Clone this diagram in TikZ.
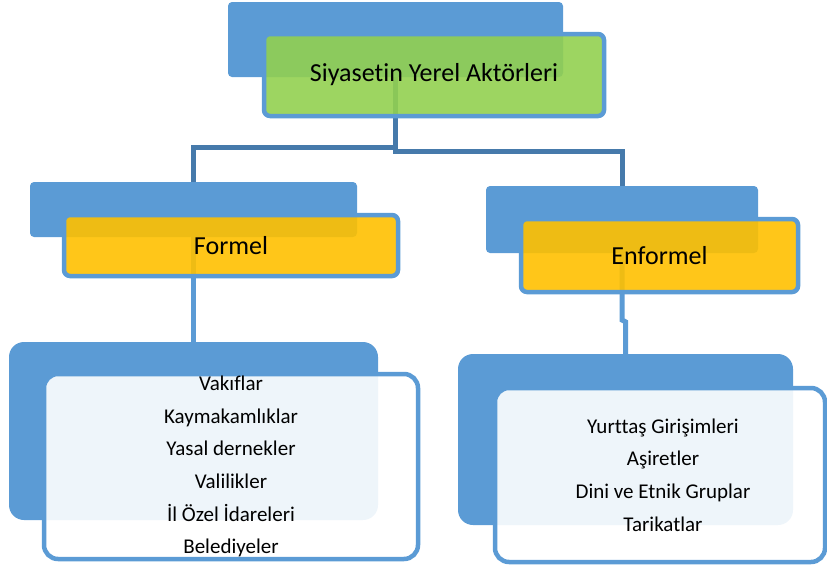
\documentclass[tikz,border=0pt]{standalone}
\usepackage{fontspec}
\setmainfont{Carlito}[Ligatures=CommonOff]
\usepackage{xcolor}
\usepackage{tikz}
\usetikzlibrary{backgrounds}

\definecolor{boxblue}{HTML}{5B9BD5}
\definecolor{linkblue}{HTML}{467AAB}
\definecolor{topgreen}{HTML}{92D050}
\definecolor{midyellow}{HTML}{FFC000}

\begin{document}
\begin{tikzpicture}[x=1pt,y=-1pt,
        back/.style={fill=boxblue,rounded corners=4pt,inner sep=0pt},
        front/.style={draw=boxblue,line width=4.5pt,rounded corners=6pt,fill opacity=0.9,text opacity=1,inner sep=0pt,font=\fontsize{26}{31}\selectfont},
        listback/.style={back,rounded corners=15pt},
        listfront/.style={front,fill=white,rounded corners=14pt,align=center,font=\fontsize{21}{32.6}\selectfont},
        link/.style={draw=boxblue,line width=5pt},
        toplink/.style={link,draw=linkblue}]
    \useasboundingbox (0,0) rectangle (827,571);

    \node[back,minimum width=335pt,minimum height=75pt] (topback) at (395.5,39.5) {};
    \node[front,fill=topgreen,minimum width=340pt,minimum height=82pt] (top) at (434,75) {Siyasetin Yerel Aktörleri};

    \node[back,minimum width=327pt,minimum height=55pt] (formelback) at (193.5,209.5) {};
    \node[front,fill=midyellow,minimum width=334pt,minimum height=61pt] (formel) at (231,245.5) {Formel};
    \node[back,minimum width=272pt,minimum height=67pt] (enformelback) at (622,219.5) {};
    \node[front,fill=midyellow,minimum width=277pt,minimum height=73pt] (enformel) at (659.5,255.5) {Enformel};

    \node[listback,minimum width=369pt,minimum height=178pt] (formellistback) at (193.5,431) {};
    \node[listfront,minimum width=374pt,minimum height=185pt] (formellist) at (231,466.5)
        {Vakıflar\\Kaymakamlıklar\\Yasal dernekler\\Valilikler\\İl Özel İdareleri\\Belediyeler};
    \node[listback,minimum width=335pt,minimum height=171pt] (enformellistback) at (625.5,439.5) {};
    \node[listfront,minimum width=330pt,minimum height=174pt] (enformellist) at (660,475)
        {\hspace*{6pt}Yurttaş Girişimleri\\\hspace*{6pt}Aşiretler\\\hspace*{6pt}Dini ve Etnik Gruplar\\\hspace*{6pt}Tarikatlar};

    \begin{scope}[on background layer]
        \draw[toplink] (topback.center) |- ([yshift=34.5pt]formelback.north) -- (formelback.center);
        \draw[toplink] (topback.center) |- ([yshift=34pt]enformelback.north) -- (enformelback.center);
        \draw[link] (formelback.center) -- (formellistback.center);
        \draw[link] (enformelback.center) -- ++(0,100.5) -- ([yshift=32pt]enformellistback.north) -- (enformellistback.center);
    \end{scope}
\end{tikzpicture}
\end{document}
